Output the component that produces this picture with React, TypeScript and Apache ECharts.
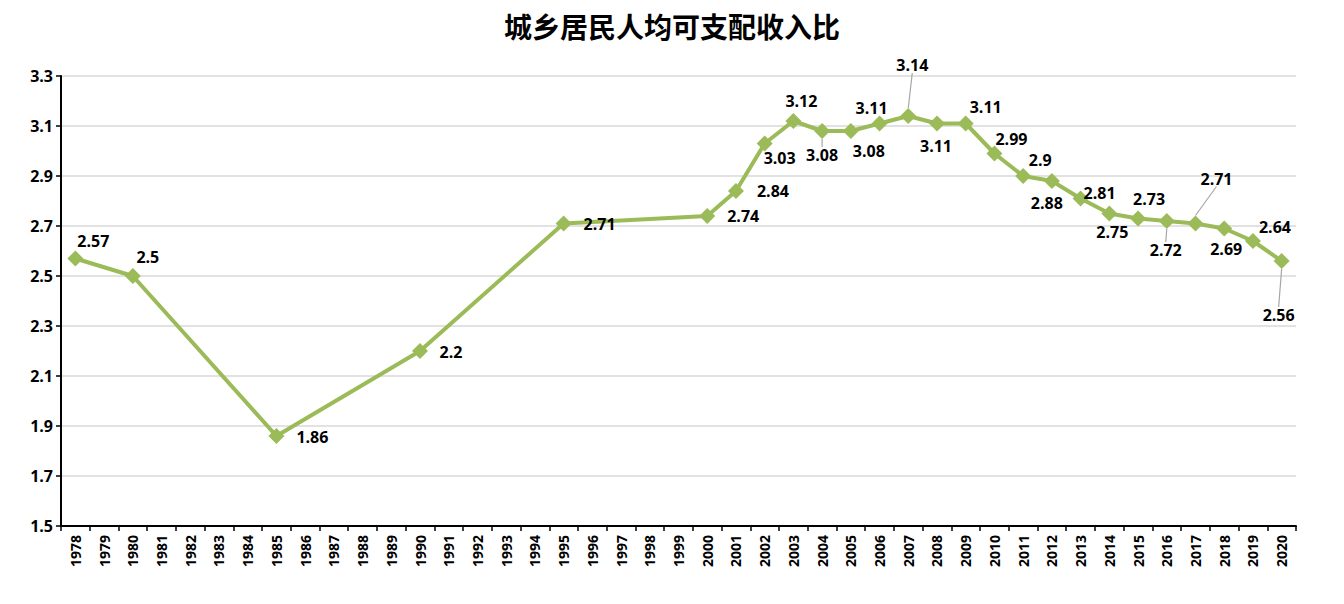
import React, { useEffect, useRef } from "react";
import * as echarts from "echarts";

const years: string[] = [];
for (let y = 1978; y <= 2020; y++) years.push(String(y));

const dataYears = [1978, 1980, 1985, 1990, 1995, 2000, 2001, 2002, 2003, 2004, 2005, 2006, 2007, 2008, 2009, 2010, 2011, 2012, 2013, 2014, 2015, 2016, 2017, 2018, 2019, 2020];
const ratios = [2.57, 2.5, 1.86, 2.2, 2.71, 2.74, 2.84, 3.03, 3.12, 3.08, 3.08, 3.11, 3.14, 3.11, 3.11, 2.99, 2.9, 2.88, 2.81, 2.75, 2.73, 2.72, 2.71, 2.69, 2.64, 2.56];
const yTicks = [1.5, 1.7, 1.9, 2.1, 2.3, 2.5, 2.7, 2.9, 3.1, 3.3];

// label offsets (dx, dy) from the point, and whether a leader line is drawn
const labelOffsets: [number, number, boolean][] = [
  [18, -18, false], [15, -19, false], [36, 1, false], [31, 1, false], [36, 0, false],
  [36, 0, false], [37, 0, false], [15, 14, false], [8, -20, false], [0, 24, true],
  [18, 20, false], [-8, -16, false], [4, -51, true], [-1, 22, false], [20, -17, false],
  [17, -15, false], [17, -16, false], [-5, 22, false], [19, -6, false], [3, 18, false],
  [11, -20, false], [-1, 29, true], [21, -45, true], [2, 20, false], [22, -14, false],
  [-3, 54, true],
];

export default function App() {
  const ref = useRef<HTMLDivElement>(null);
  useEffect(() => {
    document.body.style.margin = "0";
    const chart = echarts.init(ref.current!, null, { renderer: "svg" });
    const seriesData = years.map((y) => {
      const idx = dataYears.indexOf(Number(y));
      if (idx < 0) return null;
      return {
        value: ratios[idx],
        labelLine: { show: labelOffsets[idx][2] },
      };
    });
    const idxMap: number[] = years.map((y) => dataYears.indexOf(Number(y)));
    chart.setOption({
      animation: false,
      backgroundColor: "#ffffff",
      title: {
        text: "城乡居民人均可支配收入比",
        left: "center",
        top: 7,
        textStyle: { fontFamily: "Noto Sans CJK SC", fontWeight: "bold", fontSize: 28, color: "#000" },
      },
      grid: { left: 61, right: 48, top: 76, bottom: 78 },
      xAxis: {
        type: "category",
        data: years,
        boundaryGap: true,
        axisLine: { lineStyle: { color: "#000", width: 2 } },
        axisTick: { show: true, alignWithLabel: false, length: 5, lineStyle: { color: "#000", width: 1.5 } },
        axisLabel: {
          rotate: 90,
          interval: 0,
          fontFamily: "Open Sans",
          fontWeight: "bold",
          fontSize: 14,
          color: "#000",
          margin: 9,
        },
      },
      yAxis: {
        type: "value",
        min: 1.5,
        max: 3.3,
        interval: 0.2,
        axisLine: { show: true, lineStyle: { color: "#000", width: 2 } },
        axisTick: { show: true, length: 5, lineStyle: { color: "#000", width: 1.5 } },
        splitLine: { lineStyle: { color: "#d9d9d9", width: 1.5 } },
        axisLabel: {
          fontFamily: "Open Sans",
          fontWeight: "bold",
          fontSize: 16,
          color: "#000",
          margin: 8,
          formatter: (v: number) => {
            const t = yTicks.find((x) => Math.abs(x - v) < 1e-6);
            return t !== undefined ? t.toFixed(1) : "";
          },
        },
      },
      series: [
        {
          type: "line",
          data: seriesData,
          connectNulls: true,
          symbol: "diamond",
          symbolSize: 16,
          itemStyle: { color: "#9bbb59" },
          lineStyle: { color: "#9bbb59", width: 4 },
          label: {
            show: true,
            position: "inside",
            fontFamily: "Open Sans",
            fontWeight: "bold",
            fontSize: 16,
            color: "#000",
            formatter: (p: any) => String(p.value),
          },
          labelLine: { show: false, lineStyle: { color: "#a6a6a6", width: 1.2 } },
          labelLayout: (params: any) => {
            const k = idxMap[params.dataIndex];
            if (k < 0) return {};
            const o = labelOffsets[k];
            return { dx: o[0], dy: o[1] };
          },
        },
      ],
    });
    return () => chart.dispose();
  }, []);
  return <div ref={ref} style={{ width: 1344, height: 604 }} />;
}
